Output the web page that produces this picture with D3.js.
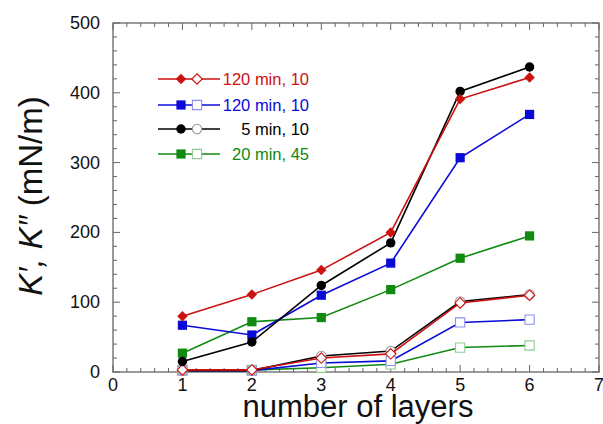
<!DOCTYPE html>
<html>
<head>
<meta charset="utf-8">
<script src="https://cdn.jsdelivr.net/npm/d3@7"></script>
<style>
  body { margin: 0; background: #fff; }
  svg { font-family: "Liberation Sans", Arial, sans-serif; }
</style>
</head>
<body>
<svg id="chart" width="603" height="424"></svg>
<script>
// layers on the x axis
var layers = [1, 2, 3, 4, 5, 6];

// K' (filled markers)
var red1 = [80, 111, 146, 200, 391, 422];
var blue1 = [67, 53, 110, 156, 307, 369];
var black1 = [15, 43, 124, 185, 402, 437];
var green1 = [27, 72, 78, 118, 163, 195];

// K'' (open markers)
var red2 = [3, 3, 20, 26, 99, 110];
var blue2 = [2, 2, 13, 16, 71, 75];
var black2 = [2, 2, 23, 30, 101, 111];
var green2 = [3, 3, 6, 11, 35, 38];

var legendLabels = ["120 min, 10", "120 min, 10", "5 min, 10", "20 min, 45"];
var xTicks = [0, 1, 2, 3, 4, 5, 6, 7];
var yTicks = [0, 100, 200, 300, 400, 500];

var series = [
    { name: legendLabels[3], color: "#108a10", open: "#8fcc8f", shape: d3.symbolSquare, filled: green1, empty: green2 },
    { name: legendLabels[1], color: "#0b0bd8", open: "#8a8ff0", shape: d3.symbolSquare, filled: blue1, empty: blue2 },
    { name: legendLabels[2], color: "#000000", open: "#999999", shape: d3.symbolCircle, filled: black1, empty: black2 },
    { name: legendLabels[0], color: "#cc1111", open: "#cc1111", shape: d3.symbolDiamond2, filled: red1, empty: red2 }
];
var legendOrder = [3, 1, 2, 0];

var svg = d3.select("#chart"),
    pLeft = 113, pRight = 599, pTop = 23, pBottom = 372;

var x = d3.scaleLinear().domain([0, 7]).range([pLeft, pRight]);
var y = d3.scaleLinear().domain([0, 500]).range([pBottom, pTop]);

var axisColor = "#666";
var g = svg.append("g");

// frame
g.append("rect")
    .attr("x", pLeft).attr("y", pTop)
    .attr("width", pRight - pLeft).attr("height", pBottom - pTop)
    .attr("fill", "none").attr("stroke", axisColor).attr("stroke-width", 1.3);

// ticks inward on all sides
var xMinor = d3.range(0, 7.001, 0.2);
var yMinor = d3.range(0, 500.1, 20);

function tickLen(v, step) {
    return Math.abs(v / step - Math.round(v / step)) < 1e-6 ? 7 : 4;
}

g.selectAll(".xt").data(xMinor).enter().append("line")
    .attr("x1", function (d) { return x(d); }).attr("x2", function (d) { return x(d); })
    .attr("y1", pBottom).attr("y2", function (d) { return pBottom - tickLen(d, 1); })
    .attr("stroke", axisColor);
g.selectAll(".xtt").data(xMinor).enter().append("line")
    .attr("x1", function (d) { return x(d); }).attr("x2", function (d) { return x(d); })
    .attr("y1", pTop).attr("y2", function (d) { return pTop + tickLen(d, 1); })
    .attr("stroke", axisColor);
g.selectAll(".yt").data(yMinor).enter().append("line")
    .attr("y1", function (d) { return y(d); }).attr("y2", function (d) { return y(d); })
    .attr("x1", pLeft).attr("x2", function (d) { return pLeft + tickLen(d, 100); })
    .attr("stroke", axisColor);
g.selectAll(".ytr").data(yMinor).enter().append("line")
    .attr("y1", function (d) { return y(d); }).attr("y2", function (d) { return y(d); })
    .attr("x1", pRight).attr("x2", function (d) { return pRight - tickLen(d, 100); })
    .attr("stroke", axisColor);

// tick labels
g.selectAll(".xl").data(xTicks).enter().append("text")
    .attr("x", function (d) { return x(d); })
    .attr("y", pBottom + 19)
    .attr("text-anchor", "middle")
    .attr("font-size", 18)
    .attr("fill", "#111")
    .text(function (d) { return d; });

g.selectAll(".yl").data(yTicks).enter().append("text")
    .attr("x", pLeft - 13)
    .attr("y", function (d) { return y(d) + 6; })
    .attr("text-anchor", "end")
    .attr("font-size", 18)
    .attr("fill", "#111")
    .text(function (d) { return d; });

// axis titles
svg.append("text")
    .attr("x", 358).attr("y", 417)
    .attr("text-anchor", "middle")
    .attr("font-size", 31)
    .attr("fill", "#111")
    .text("number of layers");

var yt = svg.append("text")
    .attr("transform", "translate(42,196) rotate(-90)")
    .attr("text-anchor", "middle")
    .attr("font-size", 33)
    .attr("fill", "#111");
yt.append("tspan").attr("font-style", "italic").text("K");
yt.append("tspan").attr("font-style", "italic").text("\u2032, ");
yt.append("tspan").attr("font-style", "italic").text("K");
yt.append("tspan").attr("font-style", "italic").text("\u2033");
yt.append("tspan").text(" (mN/m)");

var line = d3.line()
    .x(function (d, i) { return x(layers[i]); })
    .y(function (d) { return y(d); });

function sym(s) {
    return d3.symbol().type(s.shape).size(s.shape === d3.symbolCircle ? 70 : (s.shape === d3.symbolSquare ? 85 : 70));
}

// K'' open markers first, then K'
series.forEach(function (s) {
    g.append("path").datum(s.empty)
        .attr("d", line).attr("fill", "none")
        .attr("stroke", s.color).attr("stroke-width", 1.6);
    g.selectAll(null).data(s.empty).enter().append("path")
        .attr("transform", function (d, i) { return "translate(" + x(layers[i]) + "," + y(d) + ")"; })
        .attr("d", sym(s)())
        .attr("fill", "#fff").attr("stroke", s.open).attr("stroke-width", 1.1);
});

series.forEach(function (s) {
    g.append("path").datum(s.filled)
        .attr("d", line).attr("fill", "none")
        .attr("stroke", s.color).attr("stroke-width", 1.6);
    g.selectAll(null).data(s.filled).enter().append("path")
        .attr("transform", function (d, i) { return "translate(" + x(layers[i]) + "," + y(d) + ")"; })
        .attr("d", sym(s)())
        .attr("fill", s.color);
});

// legend
var legend = g.selectAll(".legend").data(legendOrder).enter().append("g")
    .attr("transform", function (d, i) { return "translate(0," + [79, 105, 129, 154][i] + ")"; });

legend.append("line")
    .attr("x1", 158).attr("x2", 220).attr("y1", 0).attr("y2", 0)
    .attr("stroke", function (d) { return series[d].color; }).attr("stroke-width", 1.6);
legend.append("path")
    .attr("transform", "translate(181,0)")
    .attr("d", function (d) { return sym(series[d])(); })
    .attr("fill", function (d) { return series[d].color; });
legend.append("path")
    .attr("transform", "translate(197,0)")
    .attr("d", function (d) { return sym(series[d])(); })
    .attr("fill", "#fff")
    .attr("stroke", function (d) { return series[d].open; }).attr("stroke-width", 1.1);
legend.append("text")
    .attr("x", 309).attr("y", 6)
    .attr("text-anchor", "end")
    .attr("font-size", 16.5)
    .attr("fill", function (d) { return series[d].color; })
    .text(function (d) { return series[d].name; });
</script>
</body>
</html>
